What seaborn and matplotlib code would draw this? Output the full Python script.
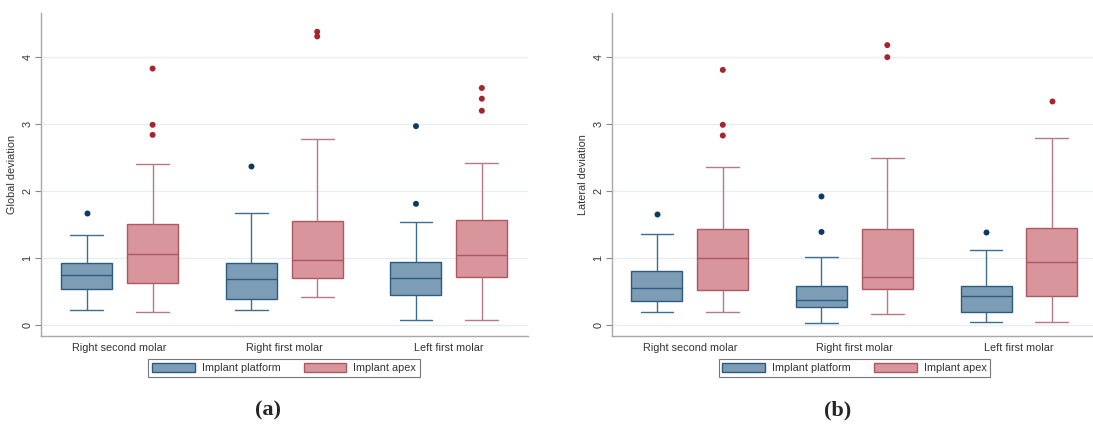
import numpy as np
import pandas as pd
import matplotlib
matplotlib.use("Agg")
import matplotlib.pyplot as plt
from matplotlib.patches import Patch
import seaborn as sns

# categories and groups
categories = ["Right second molar", "Right first molar", "Left first molar"]
sites = ["Implant platform", "Implant apex"]

# box summaries per category: [lower whisker, Q1, median, Q3, upper whisker]
global_platform = [[0.23, 0.54, 0.74, 0.92, 1.35],
                   [0.22, 0.39, 0.69, 0.92, 1.68],
                   [0.07, 0.45, 0.70, 0.94, 1.54]]
global_apex = [[0.20, 0.63, 1.06, 1.51, 2.40],
               [0.42, 0.70, 0.97, 1.56, 2.78],
               [0.08, 0.72, 1.04, 1.57, 2.42]]
global_platform_out = [[1.68], [2.38], [1.81, 2.97]]
global_apex_out = [[2.84, 2.99, 3.83], [4.31, 4.38], [3.20, 3.38, 3.54]]

lateral_platform = [[0.20, 0.36, 0.55, 0.80, 1.36],
                    [0.025, 0.265, 0.37, 0.59, 1.02],
                    [0.04, 0.20, 0.43, 0.58, 1.12]]
lateral_apex = [[0.20, 0.52, 1.00, 1.43, 2.36],
                [0.17, 0.535, 0.715, 1.44, 2.49],
                [0.05, 0.43, 0.94, 1.455, 2.80]]
lateral_platform_out = [[1.66], [1.39, 1.92], [1.39]]
lateral_apex_out = [[2.83, 2.99, 3.81], [4.00, 4.18], [3.34]]

fills = {"Implant platform": "#7d9db6", "Implant apex": "#d8959c"}
edges = {"Implant platform": "#2b5c7e", "Implant apex": "#ad5760"}
whisk = {"Implant platform": "#3d6e8e", "Implant apex": "#b87a80"}
dots = {"Implant platform": "#0c3b62", "Implant apex": "#a3262e"}


def long_frame(platform, apex):
    rows = []
    for site, stats in zip(sites, [platform, apex]):
        for cat, vals in zip(categories, stats):
            for v in vals:
                rows.append((cat, site, v))
    return pd.DataFrame(rows, columns=["tooth", "site", "value"])


def recolor(ax):
    # give each box its own edge / whisker colour (left box = platform)
    for ln in ax.lines:
        x = np.asarray(ln.get_xdata(), dtype=float)
        if len(x) < 2:
            continue
        site = sites[0] if x.mean() - round(x.mean()) < 0 else sites[1]
        if abs(x[0] - x[-1]) < 1e-9 or abs(x.max() - x.min()) < 0.25:
            ln.set_color(whisk[site])
        else:
            ln.set_color(edges[site])
    for p in ax.patches:
        ext = p.get_path().get_extents()
        xm = (ext.x0 + ext.x1) / 2
        site = sites[0] if xm - round(xm) < 0 else sites[1]
        p.set_edgecolor(edges[site])


sns.set_style("white")
plt.rcParams["font.family"] = ["Liberation Sans", "DejaVu Sans"]

fig = plt.figure(figsize=(10.93, 4.30), dpi=100)
ax_a = fig.add_axes([0.0372, 0.2186, 0.4458, 0.7512])
ax_b = fig.add_axes([0.5597, 0.2186, 0.4440, 0.7512])

panels = [
    (ax_a, global_platform, global_apex, global_platform_out, global_apex_out,
     "Global deviation", (-0.48, 2.48)),
    (ax_b, lateral_platform, lateral_apex, lateral_platform_out, lateral_apex_out,
     "Lateral deviation", (-0.475, 2.475)),
]

for ax, plat, apex, plat_out, apex_out, ylab, xl in panels:
    box_df = long_frame(plat, apex)
    out_df = long_frame(plat_out, apex_out)
    sns.boxplot(data=box_df, x="tooth", y="value", hue="site",
                order=categories, hue_order=sites, palette=fills,
                saturation=1, width=0.8, gap=0.225, whis=(0, 100),
                linewidth=1.0, legend=False, capwidths=0.2, ax=ax)
    recolor(ax)
    sns.stripplot(data=out_df, x="tooth", y="value", hue="site",
                  order=categories, hue_order=sites, palette=dots,
                  dodge=True, jitter=False, size=4.3, linewidth=0,
                  legend=False, ax=ax)

    ax.set_xlim(*xl)
    ax.set_ylim(-0.164, 4.66)
    ax.set_yticks([0, 1, 2, 3, 4])
    ax.set_yticklabels(["0", "1", "2", "3", "4"], rotation=90, va="center")
    ax.grid(axis="y", color="#e6eef0", linewidth=1.0)
    ax.set_axisbelow(True)
    for s in ["top", "right"]:
        ax.spines[s].set_visible(False)
    for s in ["left", "bottom"]:
        ax.spines[s].set_color("#a8a8a8")
        ax.spines[s].set_linewidth(1.0)
    ax.tick_params(axis="y", length=4, width=0.8, color="#888888",
                   labelsize=7.8, pad=2, left=True, labelcolor="#333333")
    ax.tick_params(axis="x", length=0, labelsize=7.8, pad=5,
                   labelcolor="#333333")
    ax.set_xlabel("")
    ax.set_ylabel(ylab, fontsize=7.8, color="#333333", labelpad=4)

    handles = [Patch(facecolor=fills[s], edgecolor=edges[s], linewidth=1.0)
               for s in sites]
    leg = ax.legend(handles, sites, loc="center", bbox_to_anchor=(0.5, -0.099),
                    ncol=2, fontsize=7.8, frameon=True, fancybox=False,
                    edgecolor="#555555", handlelength=3.95, handleheight=1.0,
                    handletextpad=0.65, columnspacing=2.1, borderpad=0.35,
                    borderaxespad=0)
    leg.get_frame().set_linewidth(0.8)
    for t in leg.get_texts():
        t.set_color("#333333")

fig.text(268 / 1093, 1 - 410 / 430, "(a)", ha="center", va="center",
         fontsize=16, fontweight="bold", family="Liberation Serif")
fig.text(838 / 1093, 1 - 410 / 430, "(b)", ha="center", va="center",
         fontsize=16, fontweight="bold", family="Liberation Serif")

fig.savefig("out.png", dpi=100)
